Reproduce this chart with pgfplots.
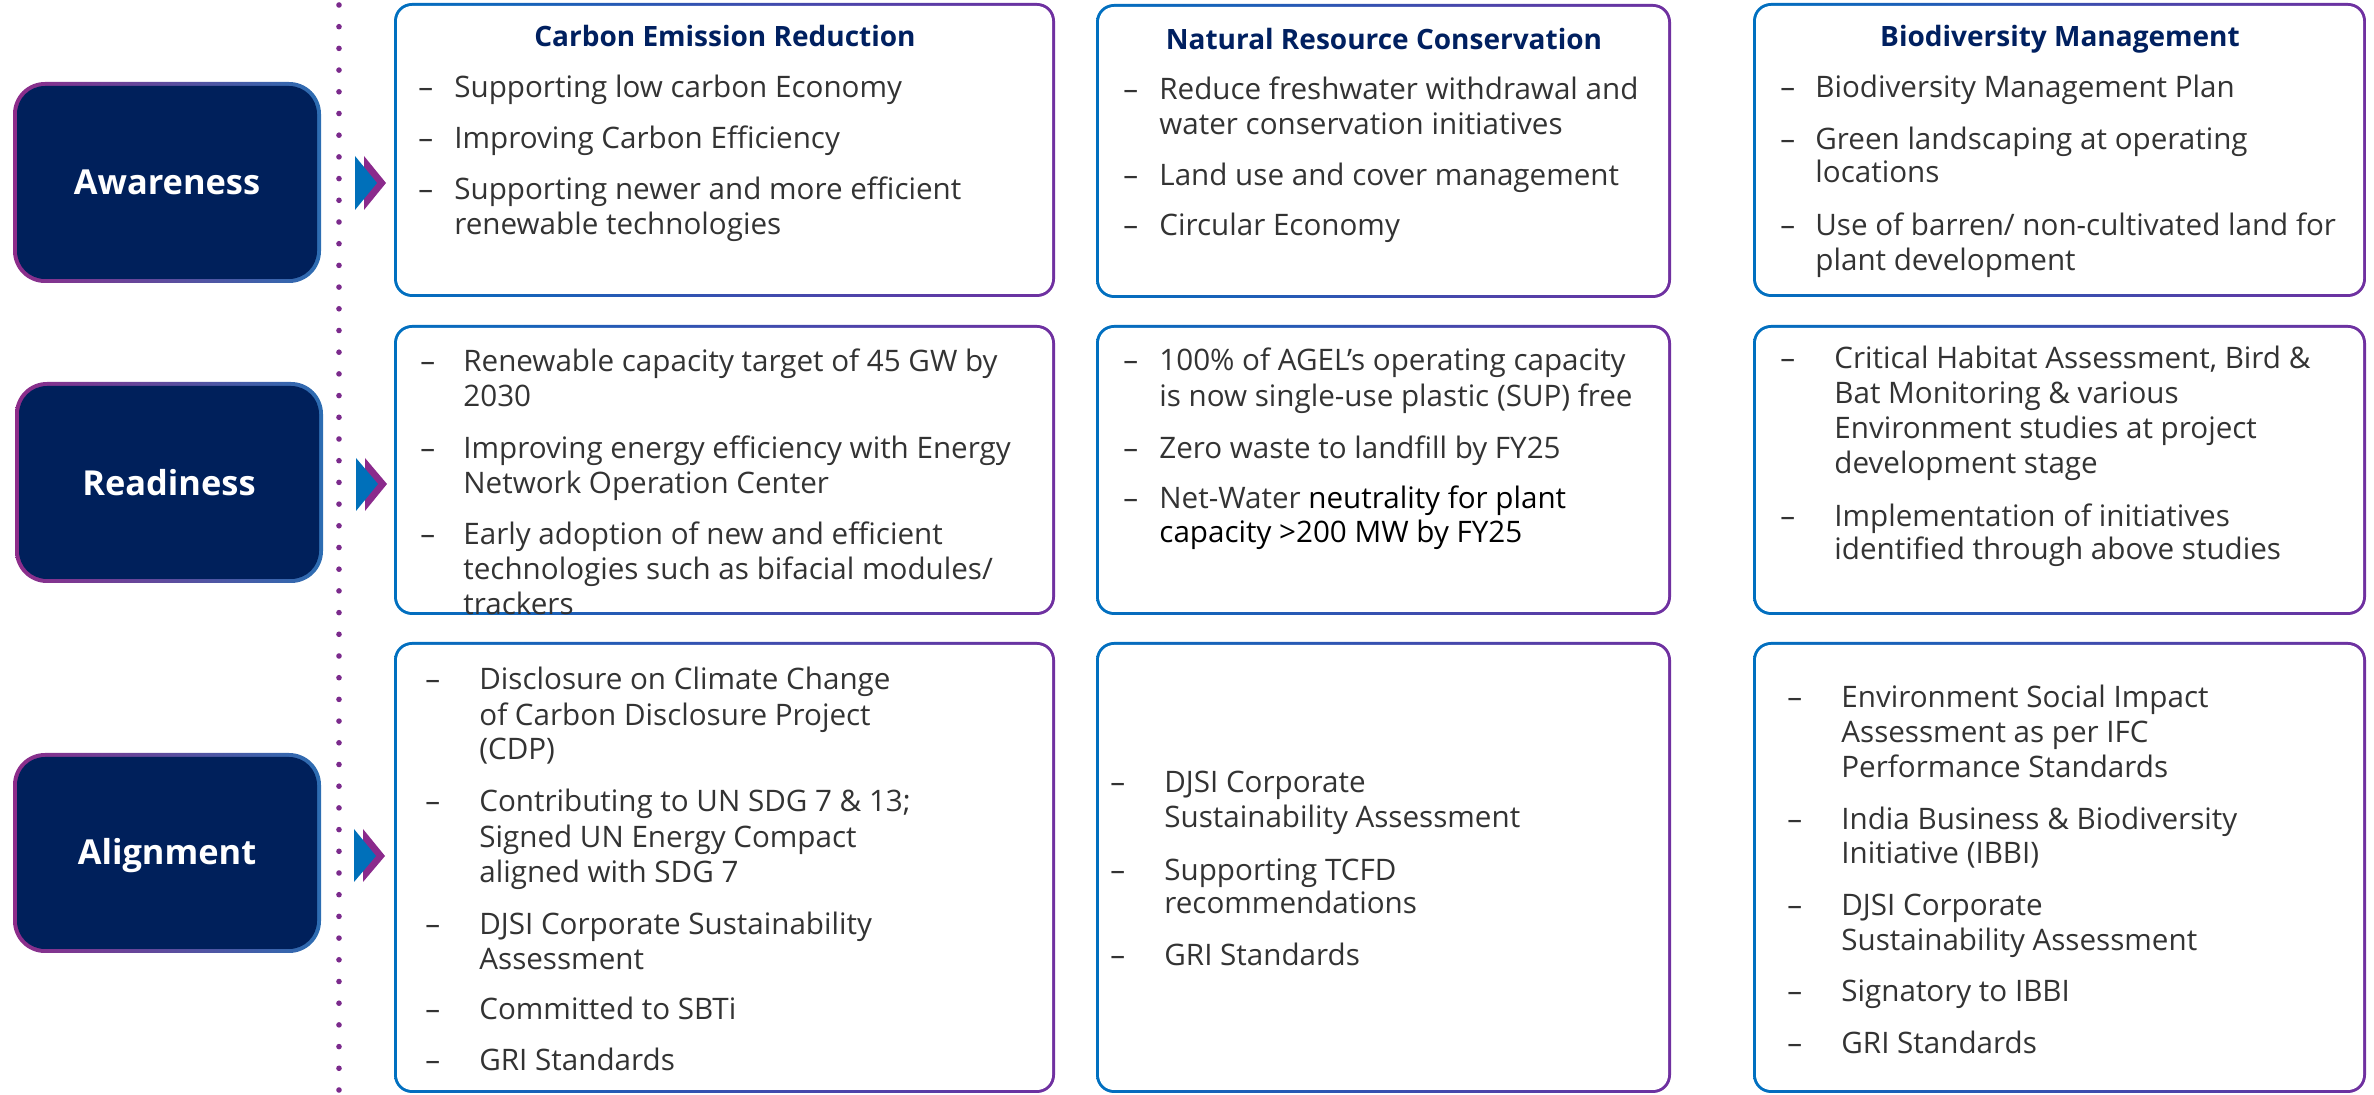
\documentclass[border=0pt]{standalone}
\usepackage{pgfplots}
\pgfplotsset{compat=1.18}
\usepackage{fontspec}
\setmainfont{Open Sans}
\definecolor{navy}{HTML}{00205B}
\definecolor{titlenavy}{HTML}{002060}
\definecolor{txt}{HTML}{333333}
\definecolor{cblue}{HTML}{0070C0}
\definecolor{cpurp}{HTML}{7030A0}
\definecolor{lpurp}{HTML}{8E2C8A}
\definecolor{lblue}{HTML}{2C6DB2}
\definecolor{dotp}{HTML}{7B2A8C}
\definecolor{arrb}{HTML}{0070BA}
\definecolor{arrp}{HTML}{8B2A8C}
\newcommand{\bodyfont}{\fontsize{14.8}{17.5}\selectfont}
\newcommand{\titlefont}{\fontsize{14}{17}\selectfont\bfseries}
\newcommand{\labfont}{\fontsize{17.2}{20}\selectfont\bfseries}
\newcommand{\tl}[3]{\node[anchor=mid west,inner sep=0pt,font=\bodyfont,text=txt,yshift=-3pt] at (axis cs:#1,#2) {#3};}
\newcommand{\dsh}[2]{\node[anchor=mid west,inner sep=0pt,font=\bodyfont,text=txt,yshift=-3pt] at (axis cs:#1,#2) {–};}
\begin{document}
\begin{tikzpicture}
\begin{axis}[
  scale only axis, width=1187pt, height=547.5pt,
  xmin=0, xmax=2374, ymin=0, ymax=1095, y dir=reverse,
  axis lines=none, ticks=none, clip=false]
\path (axis cs:0,0) rectangle (axis cs:2374,1095);
% dotted divider
\addplot[dotp, line width=2.8pt, line cap=round, dash pattern=on 0pt off 10.85pt] coordinates {(339,5) (339,1092)};
% left boxes
\shade[left color=lpurp, right color=lblue, rounded corners=16pt] (axis cs:13,82) rectangle (axis cs:321,283);
\fill[navy, rounded corners=14pt] (axis cs:17,86) rectangle (axis cs:317,279);
\shade[left color=lpurp, right color=lblue, rounded corners=16pt] (axis cs:15,382) rectangle (axis cs:323,583);
\fill[navy, rounded corners=14pt] (axis cs:19,386) rectangle (axis cs:319,579);
\shade[left color=lpurp, right color=lblue, rounded corners=16pt] (axis cs:13,753) rectangle (axis cs:321,953);
\fill[navy, rounded corners=14pt] (axis cs:17,757) rectangle (axis cs:317,949);
\node[anchor=mid, font=\labfont, text=white, yshift=-3pt] at (axis cs:167,183) {Awareness};
\node[anchor=mid, font=\labfont, text=white, yshift=-3pt] at (axis cs:169,484) {Readiness};
\node[anchor=mid, font=\labfont, text=white, yshift=-3pt] at (axis cs:167,853) {Alignment};
% arrows
\fill[arrp] (axis cs:364,156) -- (axis cs:386,183) -- (axis cs:364,210) -- cycle;
\fill[arrb] (axis cs:355,156) -- (axis cs:377,183) -- (axis cs:355,210) -- cycle;
\fill[arrp] (axis cs:365,458) -- (axis cs:387,484) -- (axis cs:365,511) -- cycle;
\fill[arrb] (axis cs:356,458) -- (axis cs:378,484) -- (axis cs:356,511) -- cycle;
\fill[arrp] (axis cs:363,829) -- (axis cs:385,856) -- (axis cs:363,882) -- cycle;
\fill[arrb] (axis cs:354,829) -- (axis cs:376,856) -- (axis cs:354,882) -- cycle;
% content boxes
\shade[left color=cblue, right color=cpurp, rounded corners=9pt] (axis cs:394,3) rectangle (axis cs:1055,297);
\fill[white, rounded corners=7.5pt] (axis cs:397,6) rectangle (axis cs:1052,294);
\shade[left color=cblue, right color=cpurp, rounded corners=9pt] (axis cs:1096,4) rectangle (axis cs:1671,298);
\fill[white, rounded corners=7.5pt] (axis cs:1099,7) rectangle (axis cs:1668,295);
\shade[left color=cblue, right color=cpurp, rounded corners=9pt] (axis cs:1753,3) rectangle (axis cs:2366,297);
\fill[white, rounded corners=7.5pt] (axis cs:1756,6) rectangle (axis cs:2363,294);
\shade[left color=cblue, right color=cpurp, rounded corners=9pt] (axis cs:394,325) rectangle (axis cs:1055,615);
\fill[white, rounded corners=7.5pt] (axis cs:397,328) rectangle (axis cs:1052,612);
\shade[left color=cblue, right color=cpurp, rounded corners=9pt] (axis cs:1096,325) rectangle (axis cs:1671,615);
\fill[white, rounded corners=7.5pt] (axis cs:1099,328) rectangle (axis cs:1668,612);
\shade[left color=cblue, right color=cpurp, rounded corners=9pt] (axis cs:1753,325) rectangle (axis cs:2366,615);
\fill[white, rounded corners=7.5pt] (axis cs:1756,328) rectangle (axis cs:2363,612);
\shade[left color=cblue, right color=cpurp, rounded corners=9pt] (axis cs:394,642) rectangle (axis cs:1055,1093);
\fill[white, rounded corners=7.5pt] (axis cs:397,645) rectangle (axis cs:1052,1090);
\shade[left color=cblue, right color=cpurp, rounded corners=9pt] (axis cs:1096,642) rectangle (axis cs:1671,1093);
\fill[white, rounded corners=7.5pt] (axis cs:1099,645) rectangle (axis cs:1668,1090);
\shade[left color=cblue, right color=cpurp, rounded corners=9pt] (axis cs:1753,642) rectangle (axis cs:2366,1093);
\fill[white, rounded corners=7.5pt] (axis cs:1756,645) rectangle (axis cs:2363,1090);
% titles
\node[anchor=mid, font=\titlefont, text=titlenavy, yshift=-3pt] at (axis cs:725,35) {Carbon Emission Reduction};
\node[anchor=mid, font=\titlefont, text=titlenavy, yshift=-3pt] at (axis cs:1384,38) {Natural Resource Conservation};
\node[anchor=mid, font=\titlefont, text=titlenavy, yshift=-3pt] at (axis cs:2060,35) {Biodiversity Management};
% row 1 col 1
\dsh{418}{86}\tl{454}{86}{Supporting low carbon Economy}
\dsh{418}{137}\tl{454}{137}{Improving Carbon Efficiency}
\dsh{418}{188}\tl{454}{188}{Supporting newer and more efficient}
\tl{454}{223}{renewable technologies}
% row 1 col 2
\dsh{1123}{88}\tl{1159}{88}{Reduce freshwater withdrawal and}
\tl{1159}{123}{water conservation initiatives}
\dsh{1123}{174}\tl{1159}{174}{Land use and cover management}
\dsh{1123}{224}\tl{1159}{224}{Circular Economy}
% row 1 col 3
\dsh{1780}{86}\tl{1815}{86}{Biodiversity Management Plan}
\dsh{1780}{138}\tl{1815}{138}{Green landscaping at operating}
\tl{1815}{171}{locations}
\dsh{1780}{224}\tl{1815}{224}{Use of barren/ non-cultivated land for}
\tl{1815}{259}{plant development}
% row 2 col 1
\dsh{420}{360}\tl{463}{360}{Renewable capacity target of 45 GW by}
\tl{463}{395}{2030}
\dsh{420}{447}\tl{463}{447}{Improving energy efficiency with Energy}
\tl{463}{482}{Network Operation Center}
\dsh{420}{533}\tl{463}{533}{Early adoption of new and efficient}
\tl{463}{568}{technologies such as bifacial modules/}
\tl{463}{603}{trackers}
% row 2 col 2
\dsh{1123}{359}\tl{1159}{359}{100\% of AGEL’s operating capacity}
\tl{1159}{395}{is now single-use plastic (SUP) free}
\dsh{1123}{447}\tl{1159}{447}{Zero waste to landfill by FY25}
\dsh{1123}{497}\tl{1159}{497}{Net-Water \textcolor{black}{neutrality for plant}}
\node[anchor=mid west,inner sep=0pt,font=\bodyfont,text=black,yshift=-3pt] at (axis cs:1159,531) {capacity >200 MW by FY25};
% row 2 col 3
\dsh{1780}{357}\tl{1834}{357}{Critical Habitat Assessment, Bird \&}
\tl{1834}{392}{Bat Monitoring \& various}
\tl{1834}{427}{Environment studies at project}
\tl{1834}{462}{development stage}
\dsh{1780}{515}\tl{1834}{515}{Implementation of initiatives}
\tl{1834}{548}{identified through above studies}
% row 3 col 1
\dsh{425}{678}\tl{479}{678}{Disclosure on Climate Change}
\tl{479}{714}{of Carbon Disclosure Project}
\tl{479}{748}{(CDP)}
\dsh{425}{800}\tl{479}{800}{Contributing to UN SDG 7 \& 13;}
\tl{479}{836}{Signed UN Energy Compact}
\tl{479}{871}{aligned with SDG 7}
\dsh{425}{923}\tl{479}{923}{DJSI Corporate Sustainability}
\tl{479}{958}{Assessment}
\dsh{425}{1008}\tl{479}{1008}{Committed to SBTi}
\dsh{425}{1059}\tl{479}{1059}{GRI Standards}
% row 3 col 2
\dsh{1110}{781}\tl{1164}{781}{DJSI Corporate}
\tl{1164}{816}{Sustainability Assessment}
\dsh{1110}{869}\tl{1164}{869}{Supporting TCFD}
\tl{1164}{902}{recommendations}
\dsh{1110}{954}\tl{1164}{954}{GRI Standards}
% row 3 col 3
\dsh{1787}{696}\tl{1841}{696}{Environment Social Impact}
\tl{1841}{731}{Assessment as per IFC}
\tl{1841}{766}{Performance Standards}
\dsh{1787}{818}\tl{1841}{818}{India Business \& Biodiversity}
\tl{1841}{852}{Initiative (IBBI)}
\dsh{1787}{904}\tl{1841}{904}{DJSI Corporate}
\tl{1841}{939}{Sustainability Assessment}
\dsh{1787}{990}\tl{1841}{990}{Signatory to IBBI}
\dsh{1787}{1042}\tl{1841}{1042}{GRI Standards}
\end{axis}
\pgfresetboundingbox
\path (current axis.south west) rectangle (current axis.north east);
\end{tikzpicture}
\end{document}
